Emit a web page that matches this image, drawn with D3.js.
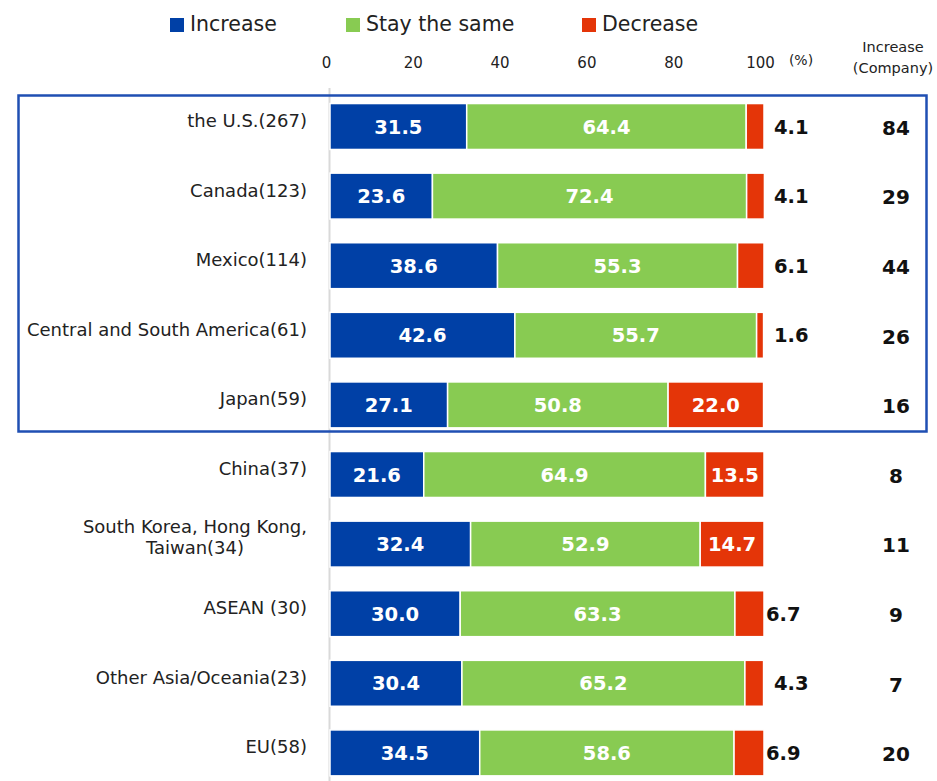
<!DOCTYPE html>
<html><head><meta charset="utf-8">
<script src="https://cdn.jsdelivr.net/npm/d3@7"></script>
<style>
html,body{margin:0;padding:0;background:#fff;}
svg{display:block;font-family:"DejaVu Sans",Verdana,sans-serif;}
</style></head>
<body><svg id="chart" width="937" height="781"></svg>
<script>
const categories = ["the U.S.(267)", "Canada(123)", "Mexico(114)", "Central and South America(61)", "Japan(59)", "China(37)", "South Korea, Hong Kong,\nTaiwan(34)", "ASEAN (30)", "Other Asia/Oceania(23)", "EU(58)"];
const increase = [31.5, 23.6, 38.6, 42.6, 27.1, 21.6, 32.4, 30.0, 30.4, 34.5];
const same = [64.4, 72.4, 55.3, 55.7, 50.8, 64.9, 52.9, 63.3, 65.2, 58.6];
const decrease = [4.1, 4.1, 6.1, 1.6, 22.0, 13.5, 14.7, 6.7, 4.3, 6.9];
const companies = [84, 29, 44, 26, 16, 8, 11, 9, 7, 20];
const seriesNames = ["Increase", "Stay the same", "Decrease"];
const tickValues = [0, 20, 40, 60, 80, 100];

const colors = ["#0040a6", "#88cb52", "#e43508"];
const svg = d3.select("#chart");

const x = d3.scaleLinear().domain([0, 100]).range([330, 764]);
const y = d3.scaleBand().domain(categories).range([91.7, 787.7]).paddingInner(0.34).paddingOuter(0.17);

// axis line
svg.append("line").attr("x1", 329.5).attr("x2", 329.5).attr("y1", 88).attr("y2", 781)
  .attr("stroke", "#d9d9d9").attr("stroke-width", 2);

// box
svg.append("rect").attr("x", 18.5).attr("y", 95.5).attr("width", 908).attr("height", 336)
  .attr("fill", "none").attr("stroke", "#1f4fb3").attr("stroke-width", 2.5);

// stacked data
const rows = categories.map((c, i) => ({cat: c, vals: [increase[i], same[i], decrease[i]], n: companies[i]}));
const segs = [];
rows.forEach(r => {
  let acc = 0;
  r.vals.forEach((v, k) => { segs.push({cat: r.cat, k, v, x0: acc, x1: acc + v}); acc += v; });
});

svg.append("g").selectAll("rect").data(segs).join("rect")
  .attr("x", d => x(d.x0)).attr("width", d => x(d.x1) - x(d.x0))
  .attr("y", d => y(d.cat)).attr("height", y.bandwidth())
  .attr("fill", d => colors[d.k]).attr("stroke", "#fff").attr("stroke-width", 1.5);

// value labels
svg.append("g").selectAll("text").data(segs).join("text")
  .attr("x", d => d.v >= 10 ? (x(d.x0) + x(d.x1)) / 2 : x(100) + (d.v >= 6.5 ? 2 : 10))
  .attr("y", d => y(d.cat) + y.bandwidth() / 2)
  .attr("dy", "0.36em")
  .attr("text-anchor", d => d.v >= 10 ? "middle" : "start")
  .attr("fill", d => d.v >= 10 ? "#fff" : "#111")
  .attr("font-weight", "bold").attr("font-size", 19.5)
  .text(d => d.v.toFixed(1));

// company counts
svg.append("g").selectAll("text").data(rows).join("text")
  .attr("x", 896).attr("y", d => y(d.cat) + y.bandwidth() / 2 + 1)
  .attr("dy", "0.36em").attr("text-anchor", "middle")
  .attr("font-weight", "bold").attr("font-size", 20).attr("fill", "#111")
  .text(d => d.n);

// category labels
const lab = svg.append("g").selectAll("text").data(categories).join("text")
  .attr("font-size", 18).attr("fill", "#222");
lab.each(function(c) {
  const t = d3.select(this);
  const lines = c.split("\n");
  const cy = y(c) + y.bandwidth() / 2 - 6;
  if (lines.length === 1) {
    t.attr("x", 307).attr("y", cy).attr("dy", "0.36em").attr("text-anchor", "end").text(c);
  } else {
    t.attr("text-anchor", "middle");
    lines.forEach((l, j) => t.append("tspan").attr("x", 0).attr("y", cy - 12 + j * 21).attr("dy", "0.36em").text(l));
    const w = t.select("tspan").node().getComputedTextLength();
    t.selectAll("tspan").attr("x", 307 - w / 2);
  }
});

// top axis
const axis = d3.axisTop(x).tickValues(tickValues).tickSize(0).tickPadding(0);
const ag = svg.append("g").attr("transform", "translate(0,68)").call(axis);
ag.select(".domain").remove();
ag.selectAll("text").attr("font-size", 15).attr("fill", "#222").attr("dx", -4)
  .attr("font-family", "DejaVu Sans, Verdana, sans-serif");
svg.append("text").attr("x", 801).attr("y", 65).attr("text-anchor", "middle")
  .attr("font-size", 14).attr("fill", "#222").text("(%)");

// company header
svg.append("text").attr("x", 893).attr("y", 52).attr("text-anchor", "middle")
  .attr("font-size", 14.5).attr("fill", "#222").text("Increase");
svg.append("text").attr("x", 893).attr("y", 73).attr("text-anchor", "middle")
  .attr("font-size", 14.5).attr("fill", "#222").text("(Company)");

// legend
const legX = [170, 346, 582];
const lg = svg.append("g").selectAll("g").data(seriesNames).join("g")
  .attr("transform", (d, i) => `translate(${legX[i]},0)`);
lg.append("rect").attr("x", 0).attr("y", 18).attr("width", 14).attr("height", 14)
  .attr("fill", (d, i) => colors[i]);
lg.append("text").attr("x", 20).attr("y", 24).attr("dy", "0.36em")
  .attr("font-size", 20.5).attr("fill", "#222").text(d => d);
</script></body></html>
